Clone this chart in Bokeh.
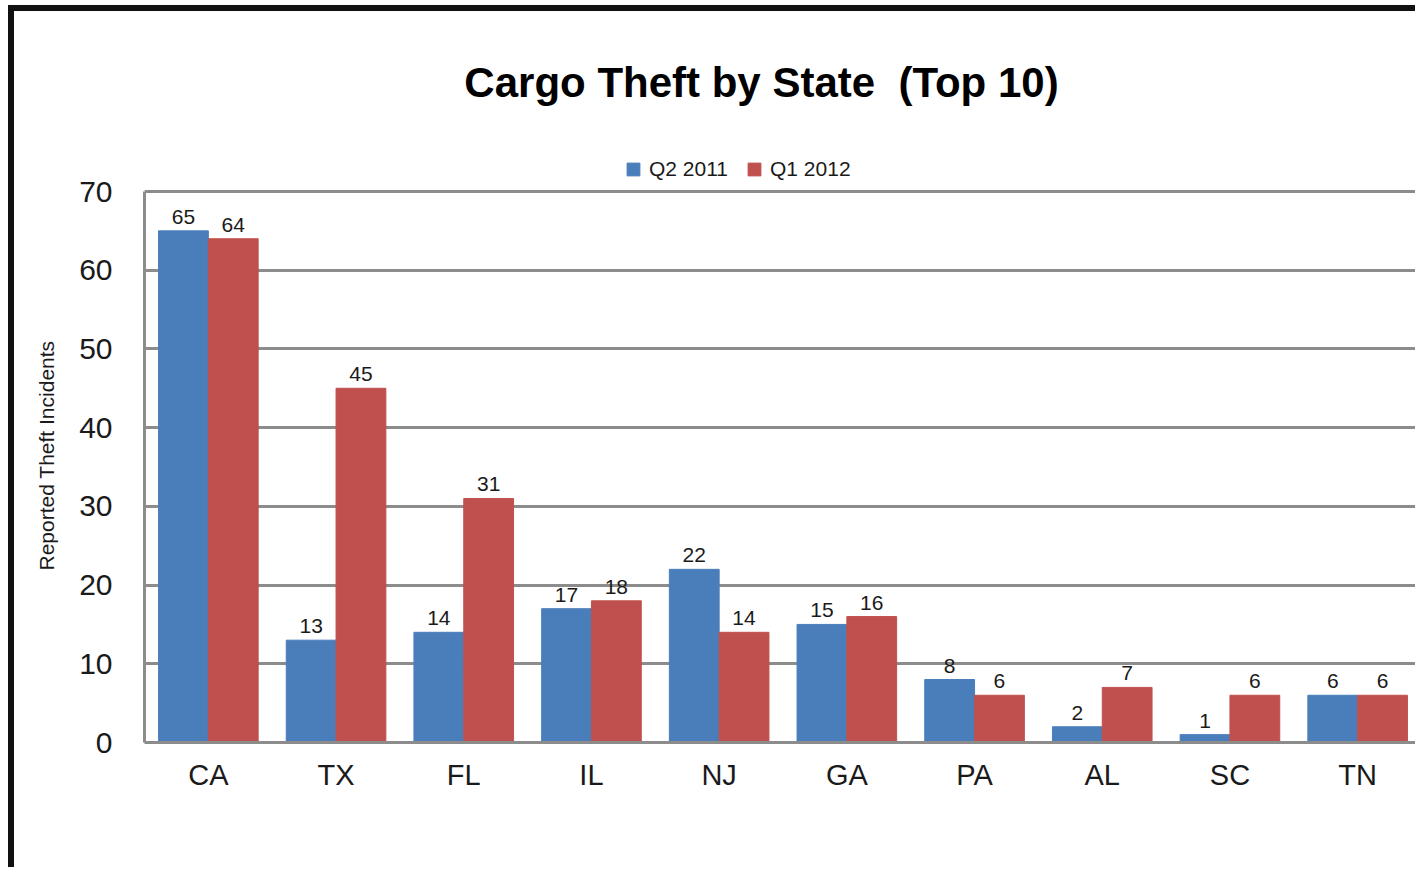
from bokeh.plotting import figure
from bokeh.models import ColumnDataSource, FactorRange, Legend, LegendItem, Label, Title
from bokeh.transform import dodge
from bokeh.core.properties import value
from bokeh.embed import file_html
from bokeh.resources import INLINE

states = ["CA", "TX", "FL", "IL", "NJ", "GA", "PA", "AL", "SC", "TN"]
q2_2011 = [65, 13, 14, 17, 22, 15, 8, 2, 1, 6]
q1_2012 = [64, 45, 31, 18, 14, 16, 6, 7, 6, 6]
series_names = ["Q2 2011", "Q1 2012"]
y_ticks = [0, 10, 20, 30, 40, 50, 60, 70]
chart_title = "Cargo Theft by State \u00a0(Top 10)"
y_title = "Reported Theft Incidents"

BLUE = "#4a7ebb"
RED = "#c0504d"
GRID = "#8c8c8c"
FONT = "Liberation Sans"

src = ColumnDataSource(dict(
    state=states, a=q2_2011, b=q1_2012,
    at=[str(v) for v in q2_2011], bt=[str(v) for v in q1_2012],
))

# frame spans from canvas top to the zero line; 0..70 occupies 551 px of 731 px
p = figure(
    x_range=FactorRange(factors=states, range_padding=0),
    y_range=(0, 92.87),
    width=1407, height=862, title=None,
    output_backend="svg", toolbar_location=None,
    min_border_left=130, min_border_right=0,
    min_border_top=0, min_border_bottom=131,
)
p.styles = {"border-left": "6px solid #111111", "border-top": "6px solid #111111",
            "margin-left": "8px", "margin-top": "5px"}
p.outline_line_color = None
p.background_fill_color = "white"
p.border_fill_color = "white"

w = 0.39
r1 = p.vbar(x=dodge("state", -w / 2, range=p.x_range), top="a", width=w, bottom=0,
            source=src, fill_color=BLUE, line_color=BLUE)
r2 = p.vbar(x=dodge("state", w / 2, range=p.x_range), top="b", width=w, bottom=0,
            source=src, fill_color=RED, line_color=RED)

for col, txt, off in (("a", "at", -w / 2), ("b", "bt", w / 2)):
    p.text(x=dodge("state", off, range=p.x_range), y=col, text=txt, source=src,
           text_align="center", text_baseline="bottom", y_offset=-7,
           text_font=value(FONT), text_font_size="21px", text_color="#1a1a1a")

# axes
p.yaxis.ticker = y_ticks
p.yaxis.bounds = (0, 70)
p.yaxis.major_label_text_font = FONT
p.yaxis.major_label_text_font_size = "30px"
p.yaxis.major_label_text_color = "#1a1a1a"
p.yaxis.major_tick_out = 0
p.yaxis.major_tick_in = 0
p.yaxis.minor_tick_line_color = None
p.yaxis.major_label_standoff = 32
p.yaxis.axis_line_color = GRID
p.yaxis.axis_line_width = 3

p.xaxis.major_label_text_font = FONT
p.xaxis.major_label_text_font_size = "29px"
p.xaxis.major_label_text_color = "#1a1a1a"
p.xaxis.major_tick_out = 0
p.xaxis.major_tick_in = 0
p.xaxis.major_label_standoff = 16
p.xaxis.axis_line_color = GRID
p.xaxis.axis_line_width = 3

p.xgrid.grid_line_color = None
p.ygrid.grid_line_color = GRID
p.ygrid.grid_line_width = 3

legend = Legend(items=[LegendItem(label=series_names[0], renderers=[r1]),
                       LegendItem(label=series_names[1], renderers=[r2])],
                location=(481, 561), orientation="horizontal",
                glyph_width=16, glyph_height=16, label_standoff=8, spacing=18,
                padding=0, margin=0, border_line_color=None, background_fill_alpha=0,
                label_text_font=FONT, label_text_font_size="21px",
                label_text_color="#1a1a1a")
p.add_layout(legend, "center")

title = Label(x=617, y=660, x_units="screen", y_units="screen",
              text=chart_title, text_align="center", text_baseline="alphabetic",
              text_font=FONT, text_font_size="42px", text_font_style="bold",
              text_color="#000000")
p.add_layout(title)

p.add_layout(Title(text=y_title, align="left", offset=172, standoff=37,
                   text_font=FONT, text_font_size="21px", text_font_style="normal",
                   text_color="#1a1a1a"), "left")

open("out.html", "w").write(file_html(p, INLINE))
